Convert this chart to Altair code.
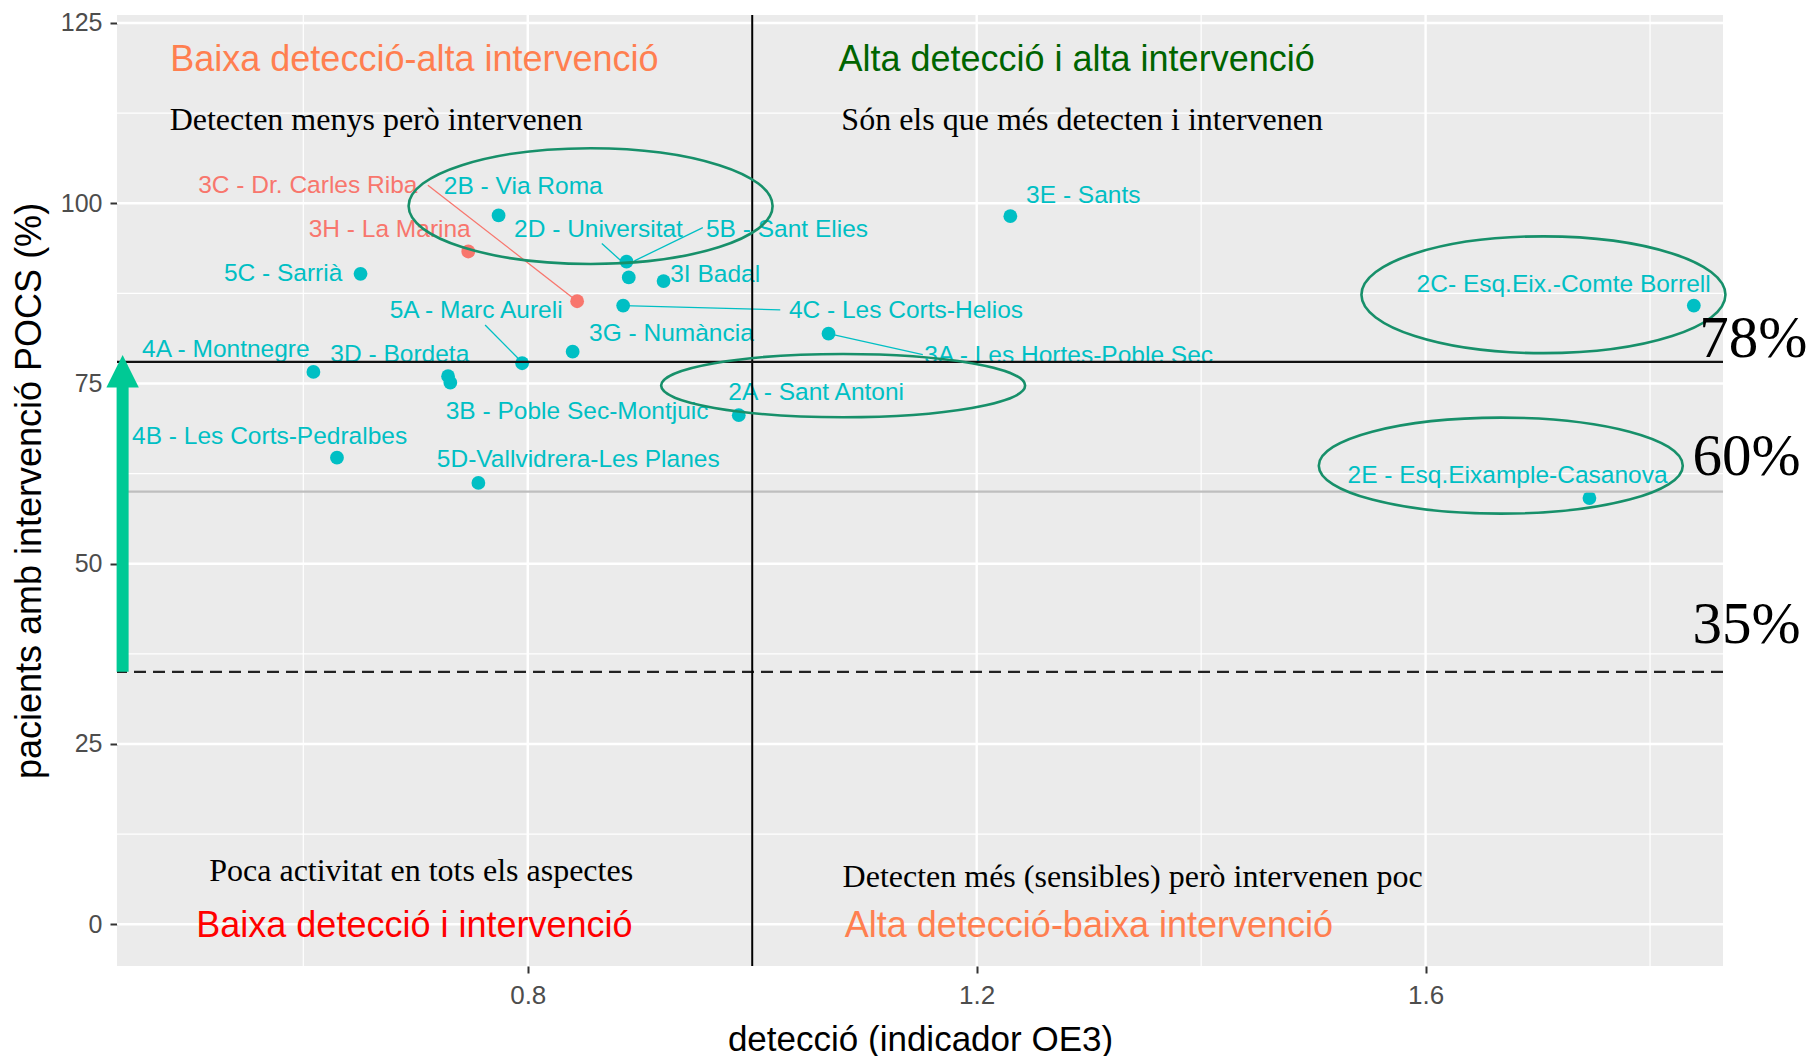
import altair as alt
import pandas as pd

# ---------------- data ----------------
abs_names = [
    "3C - Dr. Carles Riba", "2B - Via Roma", "3H - La Marina", "2D - Universitat",
    "5B - Sant Elies", "5C - Sarrià", "3I Badal", "5A - Marc Aureli",
    "4C - Les Corts-Helios", "3G - Numància", "4A - Montnegre", "3D - Bordeta",
    "3A - Les Hortes-Poble Sec", "2A - Sant Antoni", "3B - Poble Sec-Montjuic",
    "4B - Les Corts-Pedralbes", "5D-Vallvidrera-Les Planes", "3E - Sants",
    "2C- Esq.Eix.-Comte Borrell", "2E - Esq.Eixample-Casanova",
]
grup = ["A", "B", "A", "B", "B", "B", "B", "B", "B", "B",
        "B", "B", "B", "B", "B", "B", "B", "B", "B", "B"]
deteccio = [0.844, 0.774, 0.747, 0.888, 0.890, 0.651, 0.921, 0.795, 0.885, 0.840,
            0.609, 0.729, 1.068, 0.988, 0.731, 0.630, 0.756, 1.230, 1.839, 1.746]
intervencio = [86.4, 98.3, 93.3, 91.9, 89.7, 90.2, 89.2, 77.8, 85.8, 79.4,
               76.6, 76.0, 81.9, 70.6, 75.1, 64.7, 61.2, 98.2, 85.8, 59.1]
label_x = [0.604, 0.796, 0.677, 0.863, 1.031, 0.582, 0.967, 0.754, 1.137, 0.928,
           0.531, 0.686, 1.282, 1.057, 0.844, 0.570, 0.845, 1.295, 1.723, 1.673]
label_y = [102.4, 102.3, 96.3, 96.3, 96.3, 90.2, 90.1, 85.0, 85.0, 81.9,
           79.6, 78.9, 78.8, 73.7, 71.0, 67.6, 64.4, 101.0, 88.7, 62.1]

# leader lines (label -> point)
seg_x1 = [0.711, 0.866, 0.956, 0.762, 0.885, 1.068]
seg_y1 = [102.5, 94.4, 96.6, 83.1, 85.8, 81.9]
seg_x2 = [0.844, 0.886, 0.895, 0.792, 1.025, 1.152]
seg_y2 = [86.4, 91.6, 92.0, 78.4, 85.2, 79.0]
seg_grup = ["A", "B", "B", "B", "B", "B"]

# quadrant annotations
quad_titles = ["Baixa detecció-alta intervenció", "Alta detecció i alta intervenció",
               "Baixa detecció i intervenció", "Alta detecció-baixa intervenció"]
quad_x = [0.699, 1.289, 0.699, 1.300]
quad_y = [119.9, 119.9, -0.2, -0.2]
quad_colors = ["#FF7F50", "#006400", "#FF0000", "#FF7F50"]

notes = ["Detecten menys però intervenen", "Són els que més detecten i intervenen",
         "Poca activitat en tots els aspectes", "Detecten més (sensibles) però intervenen poc"]
notes_x = [0.665, 1.294, 0.705, 1.339]
notes_y = [111.5, 111.5, 7.4, 6.6]

# thresholds
thr_78 = 78
thr_60 = 60
thr_35 = 35
vline_x = 1.0
pct_labels = ["78%", "60%", "35%"]
pct_x = [1.892, 1.886, 1.886]
pct_y = [78.6, 62.3, 39.0]

# highlight ellipses
ell_x = [0.856, 1.081, 1.705, 1.667]
ell_y = [99.6, 74.7, 87.3, 63.6]
ell_w = [364, 364, 364, 364]
ell_ratio = [0.318, 0.174, 0.321, 0.264]

# arrow
arrow_x = 0.439
arrow_y0 = 35
arrow_y1 = 75.5
arrow_tip_y = 76.7

# grid
major_x = [0.8, 1.2, 1.6]
minor_x = [0.6, 1.0, 1.4, 1.8]
major_y = [0, 25, 50, 75, 100, 125]
minor_y = [12.5, 37.5, 62.5, 87.5, 112.5]

# ---------------- chart ----------------
x_scale = alt.Scale(domain=[0.434, 1.865], nice=False, zero=False)
y_scale = alt.Scale(domain=[-5.8, 126.1], nice=False, zero=False)
col_scale = alt.Scale(domain=["A", "B"], range=["#F8766D", "#00BFC4"])

x_axis = alt.Axis(values=major_x, format=".1f", grid=False, domain=False,
                  tickColor="#333333", tickWidth=2, tickSize=7, labelPadding=9,
                  labelColor="#4D4D4D", labelFontSize=26, labelFont="Liberation Sans",
                  titleFont="Liberation Sans", titleFontSize=35, titleFontWeight="normal",
                  titleColor="black", titlePadding=14)
y_axis = alt.Axis(values=major_y, format="d", grid=False, domain=False,
                  tickColor="#333333", tickWidth=2, tickSize=7, labelPadding=8,
                  labelColor="#4D4D4D", labelFontSize=25, labelFont="Liberation Sans",
                  titleFont="Liberation Sans", titleFontSize=36, titleFontWeight="normal",
                  titleColor="black", titlePadding=12)
X_TITLE = "detecció (indicador OE3)"
Y_TITLE = "pacients amb intervenció POCS (%)"


def xq(f):
    return alt.X(f, type="quantitative", scale=x_scale, axis=x_axis, title=X_TITLE)


def yq(f):
    return alt.Y(f, type="quantitative", scale=y_scale, axis=y_axis, title=Y_TITLE)


pts = pd.DataFrame({"nom": abs_names, "grup": grup, "x": deteccio, "y": intervencio,
                    "lx": label_x, "ly": label_y})
segs = pd.DataFrame({"x1": seg_x1, "y1": seg_y1, "x2": seg_x2, "y2": seg_y2, "grup": seg_grup})

gminor_x = alt.Chart(pd.DataFrame({"v": minor_x})).mark_rule(color="white", strokeWidth=1.2).encode(x=xq("v"))
gmajor_x = alt.Chart(pd.DataFrame({"v": major_x})).mark_rule(color="white", strokeWidth=2.4).encode(x=xq("v"))
gminor_y = alt.Chart(pd.DataFrame({"v": minor_y})).mark_rule(color="white", strokeWidth=1.2).encode(y=yq("v"))
gmajor_y = alt.Chart(pd.DataFrame({"v": major_y})).mark_rule(color="white", strokeWidth=2.4).encode(y=yq("v"))

points = alt.Chart(pts).mark_point(filled=True, size=190, opacity=1).encode(
    x=xq("x"), y=yq("y"),
    color=alt.Color("grup:N", scale=col_scale, legend=None),
)

segments = alt.Chart(segs).mark_rule(strokeWidth=1.3).encode(
    x=xq("x1"), y=yq("y1"), x2="x2", y2="y2",
    color=alt.Color("grup:N", scale=col_scale, legend=None),
)

labels = alt.Chart(pts).mark_text(fontSize=24.5, font="Liberation Sans", align="center",
                                  baseline="middle").encode(
    x=xq("lx"), y=yq("ly"), text="nom:N",
    color=alt.Color("grup:N", scale=col_scale, legend=None),
)

vline = alt.Chart(pd.DataFrame({"v": [vline_x]})).mark_rule(color="black", strokeWidth=2).encode(x=xq("v"))
h78 = alt.Chart(pd.DataFrame({"v": [thr_78]})).mark_rule(color="#111111", strokeWidth=2.3).encode(y=yq("v"))
h60 = alt.Chart(pd.DataFrame({"v": [thr_60]})).mark_rule(color="#BEBEBE", strokeWidth=2.4).encode(y=yq("v"))
h35 = alt.Chart(pd.DataFrame({"v": [thr_35]})).mark_rule(color="#222222", strokeWidth=2.4,
                                                         strokeDash=[12, 7]).encode(y=yq("v"))

k = 0.5523
ell_paths = []
for b in ell_ratio:
    ell_paths.append(
        f"M -1 0 C -1 {-k*b:.4f} {-k:.4f} {-b:.4f} 0 {-b:.4f} "
        f"C {k:.4f} {-b:.4f} 1 {-k*b:.4f} 1 0 "
        f"C 1 {k*b:.4f} {k:.4f} {b:.4f} 0 {b:.4f} "
        f"C {-k:.4f} {b:.4f} -1 {k*b:.4f} -1 0 Z")
ells = pd.DataFrame({"x": ell_x, "y": ell_y, "shape": ell_paths, "size": [w * w for w in ell_w]})
ellipses = alt.Chart(ells).mark_point(filled=False, strokeWidth=2.6, color="#17906A", opacity=1).encode(
    x=xq("x"), y=yq("y"),
    shape=alt.Shape("shape:N", scale=None),
    size=alt.Size("size:Q", scale=None),
)

arrow_shaft = alt.Chart(pd.DataFrame({"x": [arrow_x], "y0": [arrow_y0], "y1": [arrow_y1]})).mark_rule(
    color="#00C995", strokeWidth=12).encode(x=xq("x"), y=yq("y0"), y2="y1")
arrow_head = alt.Chart(pd.DataFrame({"x": [arrow_x], "y": [arrow_tip_y]})).mark_point(
    shape="M 0 -1 L 1 1 L -1 1 Z", filled=True, size=1050, color="#00C995", opacity=1).encode(
    x=xq("x"), y=yq("y"))

qt = pd.DataFrame({"t": quad_titles, "x": quad_x, "y": quad_y, "c": quad_colors})
quad = alt.Chart(qt).mark_text(fontSize=36, font="Liberation Sans", align="center",
                               baseline="middle").encode(
    x=xq("x"), y=yq("y"), text="t:N", color=alt.Color("c:N", scale=None))

nt = pd.DataFrame({"t": notes, "x": notes_x, "y": notes_y})
note = alt.Chart(nt).mark_text(fontSize=32, font="Liberation Serif", align="center",
                               baseline="middle", color="black").encode(
    x=xq("x"), y=yq("y"), text="t:N")

pt = pd.DataFrame({"t": pct_labels, "x": pct_x, "y": pct_y})
pct = alt.Chart(pt).mark_text(fontSize=59, font="Liberation Serif", align="center",
                              baseline="alphabetic", color="black").encode(
    x=xq("x"), y=yq("y"), text="t:N")

chart = alt.layer(
    gminor_x, gminor_y, gmajor_x, gmajor_y, points,
    segments, labels, h60, h35, vline, h78, ellipses, arrow_shaft, arrow_head, quad, note, pct,
).properties(
    width=1606, height=951,
    autosize=alt.AutoSizeParams(type="none"),
    padding={"left": 109, "top": 7, "right": 85, "bottom": 100},
).configure(background="white").configure_view(fill="#EBEBEB", stroke=None)

chart.save("out.html", embed_options={"renderer": "svg", "actions": False})
